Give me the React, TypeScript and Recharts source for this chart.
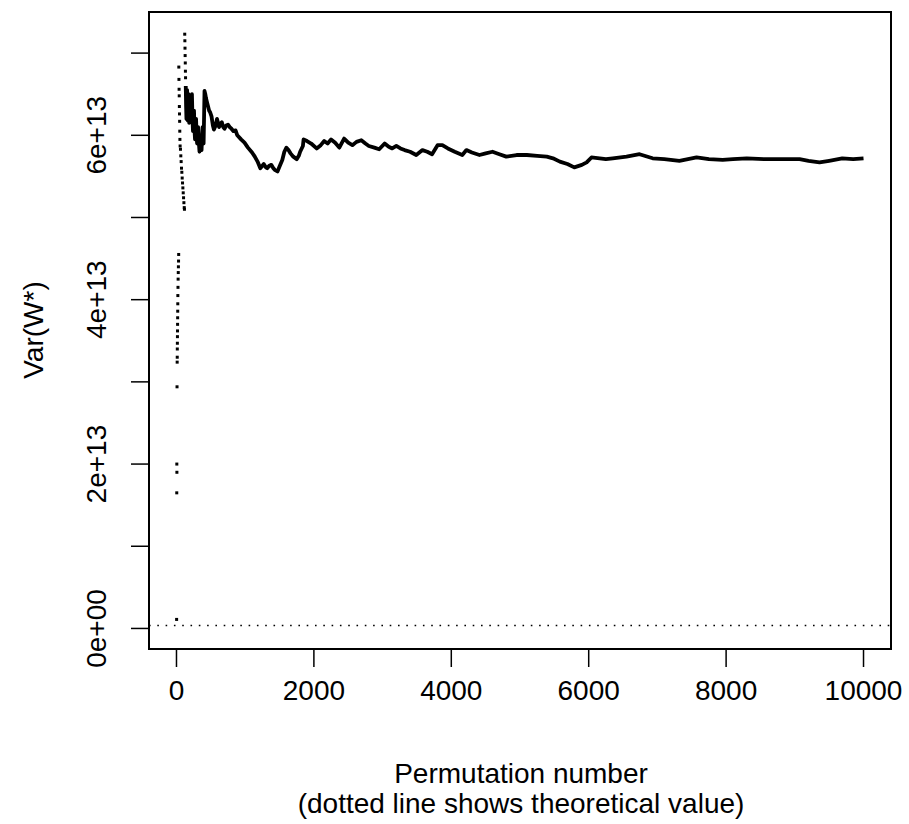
import {
  ComposedChart,
  Line,
  Scatter,
  XAxis,
  YAxis,
  ReferenceArea,
  ReferenceLine,
} from 'recharts'

// values are in units of 1e13

// first permutations: sparse points
const earlyPerm = [
  2, 4, 5, 6, 8, 10, 11, 12, 13, 14, 15, 16, 17, 18, 19, 20, 22, 24, 26, 28, 30, 32,
  34, 36, 38, 40, 42, 44, 46, 48, 50, 53, 58, 63, 68, 73, 78, 83, 88, 93, 98, 103,
  108, 113, 116, 120, 122, 124, 126, 128, 130, 132,
]
const earlyVar = [
  0.11, 1.65, 2.0, 1.9, 2.94, 3.24, 3.3, 3.4, 3.47, 3.55, 3.62, 3.7, 3.78, 3.86, 3.95,
  4.05, 4.15, 4.25, 4.33, 4.4, 4.47, 4.55, 6.83, 6.68, 6.56, 6.48, 6.35, 6.26, 6.17,
  6.05, 5.95, 5.87, 5.83, 5.75, 5.68, 5.6, 5.55, 5.48, 5.42, 5.36, 5.3, 5.24, 5.18,
  5.12, 5.1, 7.23, 7.15, 7.06, 6.97, 6.88, 6.78, 6.7,
]

// later permutations: dense trace
const tracePerm = [
  135, 140, 145, 150, 155, 160, 165, 170, 175, 180, 185, 190, 195, 203, 210, 218, 225,
  233, 240, 248, 255, 263, 270, 278, 285, 293, 300, 308, 315, 325, 335, 343, 350, 358,
  365, 373, 380, 388, 395, 408, 420, 430, 445, 460, 475, 490, 510, 530, 545, 570, 590,
  620, 640, 660, 680, 700, 725, 750, 775, 800, 830, 860, 885, 940, 990, 1040, 1100,
  1140, 1180, 1220, 1250, 1270, 1300, 1320, 1350, 1380, 1410, 1430, 1470, 1500, 1540,
  1570, 1600, 1630, 1660, 1700, 1750, 1780, 1800, 1840, 1850, 1900, 1960, 2040, 2100,
  2150, 2200, 2250, 2310, 2370, 2440, 2500, 2560, 2620, 2690, 2750, 2800, 2880, 2950,
  3030, 3090, 3140, 3200, 3260, 3320, 3400, 3490, 3580, 3650, 3720, 3800, 3870, 3950,
  4050, 4160, 4220, 4300, 4410, 4500, 4600, 4700, 4800, 4950, 5100, 5250, 5390, 5480,
  5580, 5690, 5790, 5900, 5970, 6040, 6160, 6250, 6350, 6550, 6740, 6930, 7100, 7320,
  7570, 7750, 7950, 8100, 8300, 8550, 8780, 9070, 9200, 9360, 9500, 9690, 9850, 10000,
]
const traceVar = [
  6.6, 6.35, 6.2, 6.48, 6.55, 6.3, 6.18, 6.42, 6.5, 6.25, 6.15, 6.38, 6.45, 6.28, 6.2,
  6.42, 6.5, 6.2, 6.05, 6.22, 6.3, 6.05, 5.95, 6.12, 6.2, 6.0, 5.9, 6.02, 6.1, 5.92,
  5.8, 5.9, 6.0, 5.88, 5.82, 5.98, 6.1, 6.0, 5.9, 6.54, 6.5, 6.45, 6.4, 6.35, 6.3, 6.28,
  6.23, 6.12, 6.07, 6.12, 6.2, 6.1, 6.14, 6.16, 6.1, 6.08, 6.12, 6.13, 6.1, 6.08, 6.05,
  6.06, 6.0, 5.95, 5.91, 5.85, 5.79, 5.74, 5.68, 5.6, 5.63, 5.65, 5.61, 5.6, 5.63,
  5.64, 5.6, 5.58, 5.56, 5.62, 5.7, 5.8, 5.85, 5.82, 5.78, 5.74, 5.71, 5.75, 5.8, 5.87,
  5.95, 5.93, 5.9, 5.84, 5.88, 5.93, 5.9, 5.95, 5.91, 5.85, 5.96, 5.91, 5.88, 5.92,
  5.94, 5.9, 5.87, 5.85, 5.83, 5.9, 5.86, 5.84, 5.87, 5.84, 5.82, 5.8, 5.76, 5.82, 5.8,
  5.77, 5.88, 5.88, 5.84, 5.8, 5.76, 5.82, 5.79, 5.76, 5.78, 5.8, 5.77, 5.74, 5.76,
  5.76, 5.75, 5.74, 5.72, 5.68, 5.65, 5.61, 5.64, 5.67, 5.73, 5.72, 5.71, 5.72, 5.74,
  5.77, 5.72, 5.71, 5.69, 5.73, 5.71, 5.7, 5.71, 5.72, 5.71, 5.71, 5.71, 5.69, 5.67,
  5.69, 5.72, 5.71, 5.72,
]

const theoreticalVar = 0.035

const xTicks = [0, 2000, 4000, 6000, 8000, 10000]
const yTicks = [0, 1, 2, 3, 4, 5, 6, 7]
const yLabelled = [0, 2, 4, 6]

const earlyData = earlyPerm.map((x, i) => ({ x, v: earlyVar[i] }))
const traceData = tracePerm.map((x, i) => ({ x, v: traceVar[i] }))

const FONT = '"Liberation Sans", Arial, Helvetica, sans-serif'

const fmtY = (v: number) => (v === 0 ? '0e+00' : `${v}e+13`)

const XTick = ({ x, y, payload }: any) => (
  <g>
    <line x1={x} x2={x} y1={y} y2={y + 18} stroke="#000" strokeWidth={1.5} />
    <text x={x} y={y + 51} textAnchor="middle" fontSize={28} fontFamily={FONT} fill="#000">
      {payload.value}
    </text>
  </g>
)

const YTick = ({ x, y, payload }: any) => {
  const tx = x - 43
  return (
    <g>
      <line x1={x - 18} x2={x} y1={y} y2={y} stroke="#000" strokeWidth={1.5} />
      {yLabelled.includes(payload.value) && (
        <text
          x={tx}
          y={y}
          transform={`rotate(-90, ${tx}, ${y})`}
          textAnchor="middle"
          fontSize={28}
          fontFamily={FONT}
          fill="#000"
        >
          {fmtY(payload.value)}
        </text>
      )}
    </g>
  )
}

const Pixel = ({ cx, cy }: any) => (
  <rect x={cx - 1.5} y={cy - 1.5} width={3} height={3} fill="#000" />
)

export default function App() {
  return (
    <div style={{ position: 'absolute', left: 0, top: 0, width: 909, height: 824, background: '#fff' }}>
      <ComposedChart
        width={909}
        height={824}
        margin={{ top: 12, right: 18, bottom: 0, left: 0 }}
      >
        <XAxis
          type="number"
          dataKey="x"
          domain={[-400, 10400]}
          ticks={xTicks}
          allowDataOverflow
          axisLine={false}
          tickLine={false}
          tickSize={0}
          tickMargin={0}
          tick={<XTick />}
          height={175}
          interval={0}
        />
        <YAxis
          type="number"
          dataKey="v"
          domain={[-0.25, 7.5]}
          ticks={yTicks}
          allowDataOverflow
          axisLine={false}
          tickLine={false}
          tickSize={0}
          tickMargin={0}
          tick={<YTick />}
          width={149}
          interval={0}
        />
        <ReferenceArea
          x1={-400}
          x2={10400}
          y1={-0.25}
          y2={7.5}
          fill="none"
          fillOpacity={0}
          stroke="#000"
          strokeWidth={2}
        />
        <ReferenceLine
          y={theoreticalVar}
          stroke="#000"
          strokeWidth={1.6}
          strokeDasharray="1.6 6.7"
        />
        <Scatter data={earlyData} dataKey="v" shape={<Pixel />} isAnimationActive={false} />
        <Line
          data={traceData}
          dataKey="v"
          type="linear"
          stroke="#000"
          strokeWidth={3.8}
          strokeLinejoin="round"
          dot={false}
          isAnimationActive={false}
        />
      </ComposedChart>
      <svg
        width={909}
        height={824}
        style={{ position: 'absolute', left: 0, top: 0, pointerEvents: 'none' }}
      >
        <text x={521} y={783} textAnchor="middle" fontSize={28} fontFamily={FONT}>
          Permutation number
        </text>
        <text x={521} y={813} textAnchor="middle" fontSize={28} fontFamily={FONT}>
          (dotted line shows theoretical value)
        </text>
        <text
          x={43}
          y={330}
          transform="rotate(-90, 43, 330)"
          textAnchor="middle"
          fontSize={28}
          fontFamily={FONT}
        >
          Var(W*)
        </text>
      </svg>
    </div>
  )
}
